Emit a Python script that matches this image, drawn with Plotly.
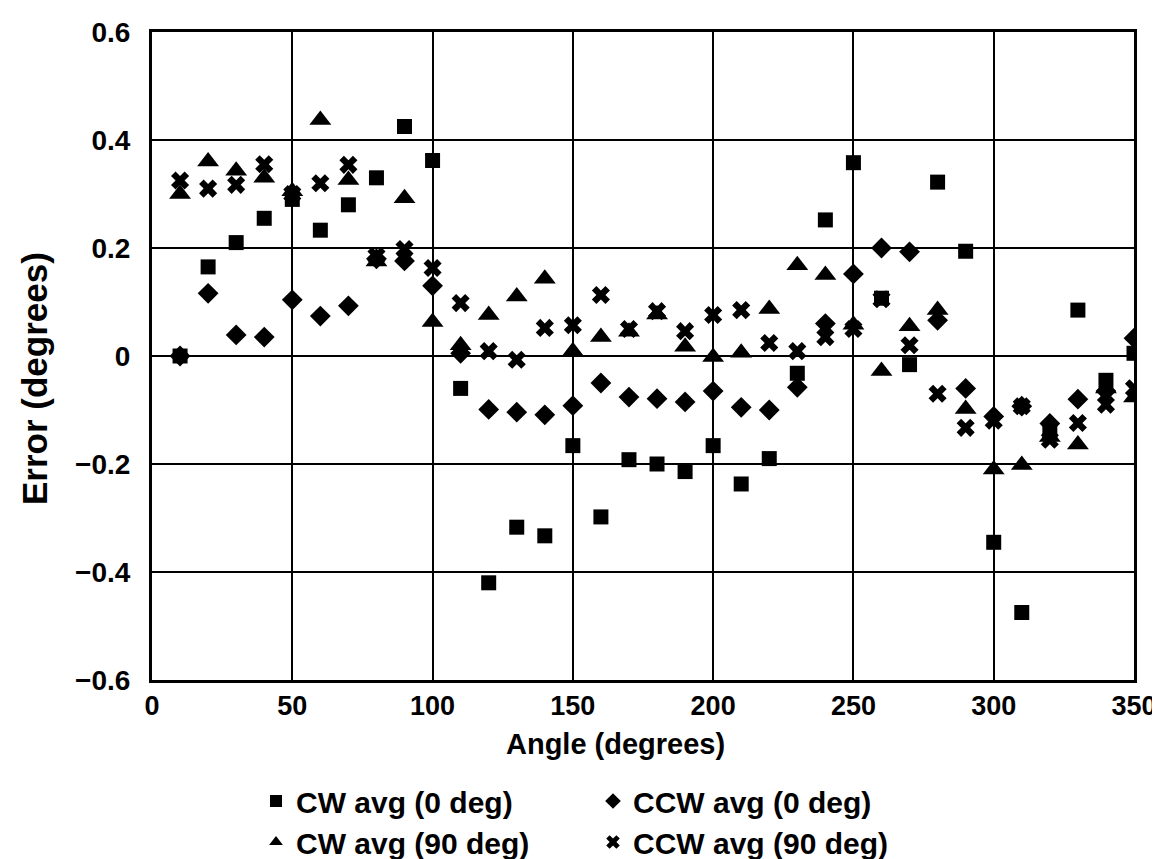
import plotly.graph_objects as go

angles = [10, 20, 30, 40, 50, 60, 70, 80, 90, 100, 110, 120, 130, 140, 150, 160, 170, 180,
          190, 200, 210, 220, 230, 240, 250, 260, 270, 280, 290, 300, 310, 320, 330, 340, 350]

cw_0 = [0.0, 0.165, 0.21, 0.255, 0.29, 0.233, 0.28, 0.33, 0.425, 0.362, -0.06, -0.42, -0.317,
        -0.333, -0.166, -0.298, -0.192, -0.2, -0.214, -0.166, -0.237, -0.19, -0.032, 0.252,
        0.358, 0.107, -0.016, 0.322, 0.194, -0.345, -0.475, -0.142, 0.085, -0.045, 0.005]

ccw_0 = [0.0, 0.116, 0.039, 0.035, 0.104, 0.074, 0.093, 0.18, 0.176, 0.13, 0.005, -0.099,
         -0.104, -0.109, -0.092, -0.05, -0.076, -0.079, -0.085, -0.065, -0.095, -0.1, -0.058,
         0.06, 0.152, 0.2, 0.193, 0.066, -0.06, -0.112, -0.093, -0.125, -0.08, -0.065, 0.033]

cw_90 = [0.30, 0.36, 0.343, 0.33, 0.305, 0.437, 0.326, 0.175, 0.292, 0.063, 0.02, 0.076, 0.11,
         0.143, 0.009, 0.035, 0.045, 0.077, 0.017, -0.002, 0.006, 0.087, 0.168, 0.15, 0.058,
         -0.028, 0.055, 0.085, -0.098, -0.21, -0.202, -0.15, -0.164, -0.06, -0.077]

ccw_90 = [0.325, 0.31, 0.317, 0.355, 0.3, 0.32, 0.354, 0.185, 0.198, 0.163, 0.098, 0.009,
          -0.007, 0.052, 0.057, 0.113, 0.05, 0.083, 0.046, 0.076, 0.085, 0.024, 0.009, 0.035,
          0.05, 0.105, 0.02, -0.07, -0.133, -0.12, -0.093, -0.155, -0.124, -0.09, -0.06]

series_names = ["CW avg (0 deg)", "CCW avg (0 deg)", "CW avg (90 deg)", "CCW avg (90 deg)"]
x_ticks = [0, 50, 100, 150, 200, 250, 300, 350]
y_ticks = [-0.6, -0.4, -0.2, 0, 0.2, 0.4, 0.6]

FONT = "Liberation Sans, Arial, sans-serif"
L, R, T, B, W, H = 144, 34, 24, 187, 1160, 859
PH = H - T - B  # plot height
PW = W - L - R


def px_to_paper_y(py):
    return (H - B - py) / PH


def px_to_paper_x(px):
    return (px - L) / PW


fig = go.Figure()
fig.add_trace(go.Scatter(x=angles, y=cw_0, mode="markers", name=series_names[0],
                         marker=dict(symbol="square", size=15, color="black"), legend="legend"))
fig.add_trace(go.Scatter(x=angles, y=ccw_0, mode="markers", name=series_names[1],
                         marker=dict(symbol="diamond", size=16, color="black"), legend="legend"))
fig.add_trace(go.Scatter(x=angles, y=cw_90, mode="markers", name=series_names[2],
                         marker=dict(symbol="triangle-up", size=19, color="black"), legend="legend2"))
fig.add_trace(go.Scatter(x=angles, y=ccw_90, mode="markers", name=series_names[3],
                         marker=dict(symbol="x", size=16, color="black"), legend="legend2"))

legend_common = dict(orientation="h", xanchor="left", yanchor="top", entrywidth=292,
                     entrywidthmode="pixels",
                     font=dict(family=FONT, size=30, color="black", weight="bold"),
                     bgcolor="rgba(0,0,0,0)", itemsizing="constant", tracegroupgap=0)

fig.update_layout(
    width=W, height=H,
    margin=dict(l=L, r=R, t=T, b=B, autoexpand=False),
    paper_bgcolor="white", plot_bgcolor="white",
    font=dict(family=FONT, size=28, color="black"),
    showlegend=True,
    legend=dict(x=px_to_paper_x(248), y=px_to_paper_y(767), **legend_common),
    legend2=dict(x=px_to_paper_x(248), y=px_to_paper_y(808), **legend_common),
    xaxis=dict(range=[0, 350], tickvals=x_ticks, showgrid=True, gridcolor="black", gridwidth=2,
               showline=True, linecolor="black", linewidth=3, mirror=True, zeroline=False,
               ticks="", ticklabelstandoff=0,
               tickfont=dict(family=FONT, size=27, color="black", weight="bold")),
    yaxis=dict(range=[-0.6, 0.6], tickvals=y_ticks, showgrid=True, gridcolor="black", gridwidth=2,
               showline=True, linecolor="black", linewidth=3, mirror=True, zeroline=False,
               ticks="", ticklabelstandoff=13,
               tickfont=dict(family=FONT, size=28, color="black", weight="bold")),
    annotations=[
        dict(text="<b>Angle (degrees)</b>", xref="paper", yref="paper",
             x=px_to_paper_x(607), y=px_to_paper_y(736), xanchor="center", yanchor="middle",
             showarrow=False, font=dict(family=FONT, size=29, color="black")),
        dict(text="<b>Error (degrees)</b>", xref="paper", yref="paper", textangle=-90,
             x=px_to_paper_x(26), y=px_to_paper_y(371), xanchor="center", yanchor="middle",
             showarrow=False, font=dict(family=FONT, size=35, color="black")),
    ],
)

fig.write_html("out.html")
